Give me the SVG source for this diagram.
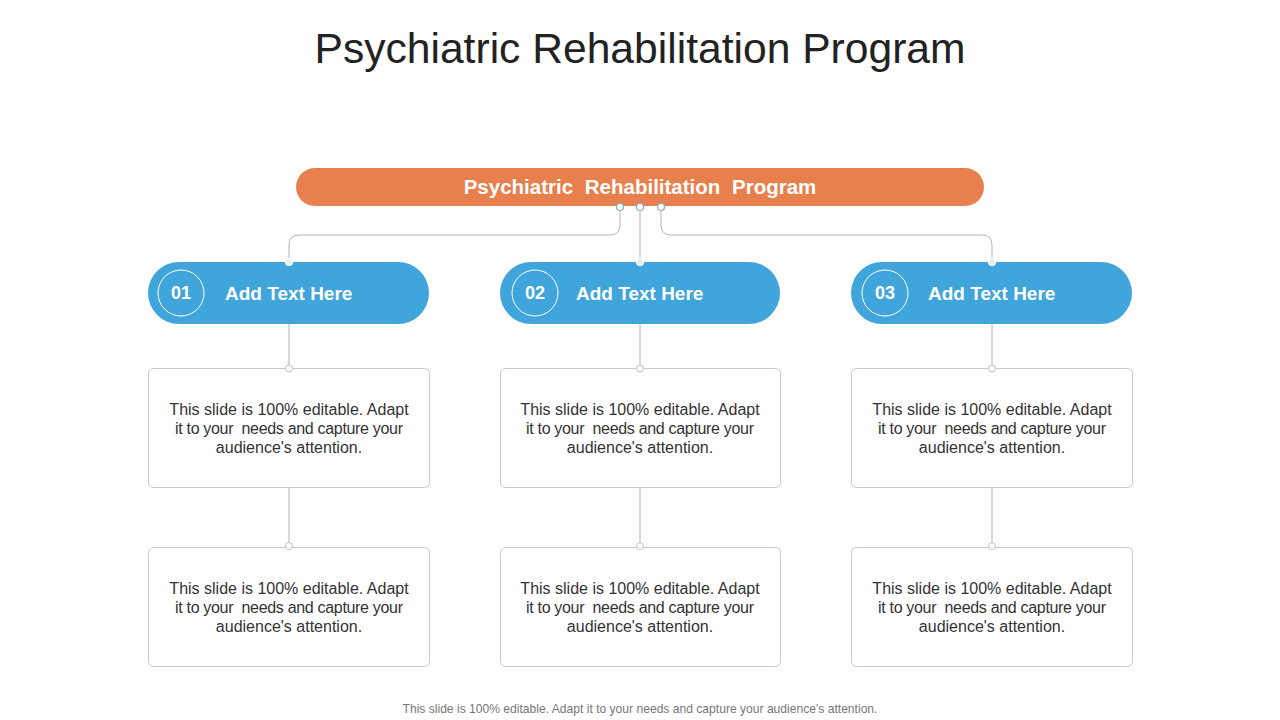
<svg xmlns="http://www.w3.org/2000/svg" width="1280" height="720" viewBox="0 0 1280 720">
<style>
.title{font-family:"Liberation Sans",Arial,sans-serif;font-size:42.6px;fill:#222;text-anchor:middle}
.hdr{font-family:"Liberation Sans",Arial,sans-serif;font-size:20.5px;font-weight:bold;fill:#fff;text-anchor:middle;word-spacing:6px}
.pill{fill:#3FA5DA}
.num{font-family:"Liberation Sans",Arial,sans-serif;font-size:18px;font-weight:bold;fill:#fff;text-anchor:middle}
.lbl{font-family:"Liberation Sans",Arial,sans-serif;font-size:19px;font-weight:bold;fill:#fff}
.ring{fill:none;stroke:#fff;stroke-width:1}
.box{fill:#fff;stroke:#c8c8c8;stroke-width:1}
.body{font-family:"Liberation Sans",Arial,sans-serif;font-size:16px;fill:#333;text-anchor:middle;white-space:pre}
.foot{font-family:"Liberation Sans",Arial,sans-serif;font-size:12.1px;fill:#777;text-anchor:middle}
.ln{fill:none;stroke:#b4b4b4;stroke-width:1}
.d1{fill:#fff;stroke:#7fb0cf;stroke-width:1.2}
.d2{fill:#e4f1fa;stroke:#fff;stroke-width:1.2}
.d3{fill:#fff;stroke:#c0c0c0;stroke-width:1}
</style>
<rect width="1280" height="720" fill="#fff"/>
<text class="title" x="640" y="63">Psychiatric Rehabilitation Program</text>

<g id="connectors">
<path class="ln" d="M620,207 V225 Q620,235 610,235 H299 Q289,235 289,245 V262"/>
<path class="ln" d="M640,207 V262"/>
<path class="ln" d="M661,207 V225 Q661,235 671,235 H982 Q992,235 992,245 V262"/>
<path class="ln" d="M289,324 V368 M289,488 V547"/>
<path class="ln" d="M640,324 V368 M640,488 V547"/>
<path class="ln" d="M992,324 V368 M992,488 V547"/>
</g>

<g id="header">
<rect x="296" y="168" width="688" height="38" rx="19" fill="#E8804E"/>
<text class="hdr" x="640" y="194">Psychiatric Rehabilitation Program</text>
<circle class="d1" cx="620" cy="207" r="3.5"/>
<circle class="d1" cx="640" cy="207" r="3.5"/>
<circle class="d1" cx="661" cy="207" r="3.5"/>
</g>

<g id="pill1">
<rect class="pill" x="148" y="262" width="281" height="62" rx="31"/>
<circle class="ring" cx="181" cy="293" r="23"/>
<text class="num" x="181" y="299">01</text>
<text class="lbl" x="225" y="300">Add Text Here</text>
<circle class="d2" cx="289" cy="262" r="3.5"/>
</g>
<g id="pill2">
<rect class="pill" x="500" y="262" width="280" height="62" rx="31"/>
<circle class="ring" cx="535" cy="293" r="23"/>
<text class="num" x="535" y="299">02</text>
<text class="lbl" x="576" y="300">Add Text Here</text>
<circle class="d2" cx="640" cy="262" r="3.5"/>
</g>
<g id="pill3">
<rect class="pill" x="851" y="262" width="281" height="62" rx="31"/>
<circle class="ring" cx="885" cy="293" r="23"/>
<text class="num" x="885" y="299">03</text>
<text class="lbl" x="928" y="300">Add Text Here</text>
<circle class="d2" cx="992" cy="262" r="3.5"/>
</g>

<g id="box1a">
<rect class="box" x="148.5" y="368.5" width="281" height="119" rx="5"/>
<circle class="d3" cx="289" cy="368.5" r="3.5"/>
<text class="body" x="289" y="415">This slide is 100% editable. Adapt</text>
<text class="body" x="289" y="434" textLength="228" lengthAdjust="spacing">it to your  needs and capture your</text>
<text class="body" x="289" y="453">audience's attention.</text>
</g>
<g id="box1b">
<rect class="box" x="148.5" y="547.5" width="281" height="119" rx="5"/>
<circle class="d3" cx="289" cy="546" r="3.5"/>
<text class="body" x="289" y="594">This slide is 100% editable. Adapt</text>
<text class="body" x="289" y="613" textLength="228" lengthAdjust="spacing">it to your  needs and capture your</text>
<text class="body" x="289" y="632">audience's attention.</text>
</g>
<g id="box2a">
<rect class="box" x="500.5" y="368.5" width="280" height="119" rx="5"/>
<circle class="d3" cx="640" cy="368.5" r="3.5"/>
<text class="body" x="640" y="415">This slide is 100% editable. Adapt</text>
<text class="body" x="640" y="434" textLength="228" lengthAdjust="spacing">it to your  needs and capture your</text>
<text class="body" x="640" y="453">audience's attention.</text>
</g>
<g id="box2b">
<rect class="box" x="500.5" y="547.5" width="280" height="119" rx="5"/>
<circle class="d3" cx="640" cy="546" r="3.5"/>
<text class="body" x="640" y="594">This slide is 100% editable. Adapt</text>
<text class="body" x="640" y="613" textLength="228" lengthAdjust="spacing">it to your  needs and capture your</text>
<text class="body" x="640" y="632">audience's attention.</text>
</g>
<g id="box3a">
<rect class="box" x="851.5" y="368.5" width="281" height="119" rx="5"/>
<circle class="d3" cx="992" cy="368.5" r="3.5"/>
<text class="body" x="992" y="415">This slide is 100% editable. Adapt</text>
<text class="body" x="992" y="434" textLength="228" lengthAdjust="spacing">it to your  needs and capture your</text>
<text class="body" x="992" y="453">audience's attention.</text>
</g>
<g id="box3b">
<rect class="box" x="851.5" y="547.5" width="281" height="119" rx="5"/>
<circle class="d3" cx="992" cy="546" r="3.5"/>
<text class="body" x="992" y="594">This slide is 100% editable. Adapt</text>
<text class="body" x="992" y="613" textLength="228" lengthAdjust="spacing">it to your  needs and capture your</text>
<text class="body" x="992" y="632">audience's attention.</text>
</g>

<text class="foot" x="640" y="713">This slide is 100% editable. Adapt it to your needs and capture your audience's attention.</text>
</svg>
